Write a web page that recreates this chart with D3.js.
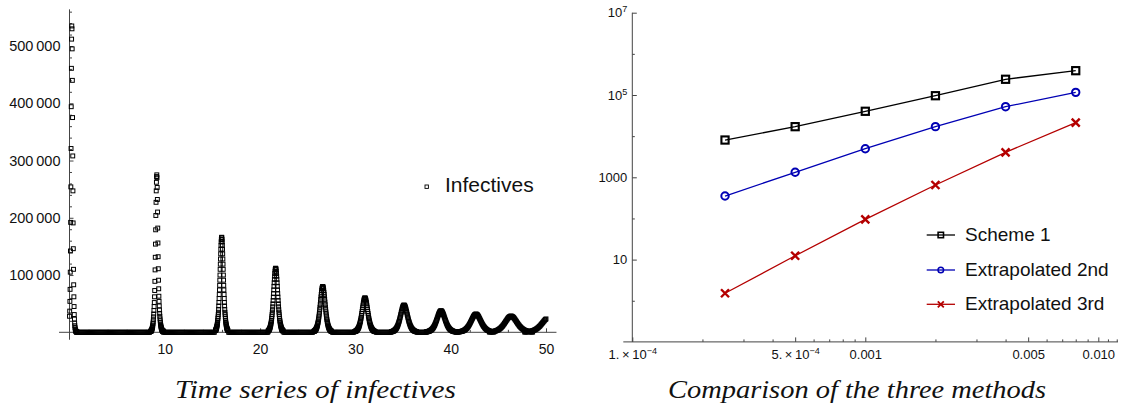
<!DOCTYPE html>
<html>
<head>
<meta charset="utf-8">
<script src="https://cdn.jsdelivr.net/npm/d3@7"></script>
<style>
  body { margin: 0; background: #fff; }
</style>
</head>
<body>
<svg id="chart" width="1121" height="411"></svg>
<script>
// ---------- left panel: infectives (thousands), stored as sampled segments ----------
// each segment: start time, sampling step, values
const segStart = [0, 0.9, 8.5, 10.0, 15.32, 16.7, 20.838, 22.5, 25.634, 27.6, 29.92, 32.2,
                  33.768, 36.5, 37.432, 40.6, 40.778, 44.062, 47.76];
const segStep = [0.02, 0.1, 0.02, 0.1, 0.018, 0.1, 0.022, 0.1, 0.026, 0.1, 0.03, 0.1,
                 0.037, 0.1, 0.043, 0.1, 0.052, 0.063, 0.07];
const segValues = [
  // peak 1
  [28,37,54,75,105,142,192,254,321,394,461,512,535,530,495,440,375,308,247,191,146,110,83,62,45,31,23,16,11.5,8.3,6,4.3,3.1,2.2,1.6,1.1,0.8,0.6,0.4,0.3,0.2],
  [0,0,0,0,0,0,0,0,0,0,0,0,0,0,0,0,0,0,0,0,0,0,0,0,0,0,0,0,0,0,0,0,0,0,0,0,0,0,0,0,0,0,0,0,0,0,0,0,0,0,0,0,0,0,0,0,0,0,0,0,0,0,0,0,0,0,0,0,0,0,0,0,0,0,0,0],
  // peak 2
  [1.3,1.6,1.9,2.3,2.8,3.4,4.1,5,6,7.2,8.6,10.4,12.5,15,18,22,27,32,38,45,52,62,73,89,109,131,154,179,204,227,247,262,272,
   275,270,253,232,210,182,156,132,111,91,76,63,54,46,39,33,28,23.5,20,17,14.3,12,10,8.4,7,5.9,4.9,4.1,3.4,2.8,2.3,1.9,1.6,1.3,1.1,0.9,0.7,0.5],
  [0,0,0,0,0,0,0,0,0,0,0,0,0,0,0,0,0,0,0,0,0,0,0,0,0,0,0,0,0,0,0,0,0,0,0,0,0,0,0,0,0,0,0,0,0,0,0,0,0,0,0,0,0],
  // peak 3
  [3.1,3.6,4.2,4.9,5.7,6.6,7.6,8.8,10.2,11.7,13.6,15.7,18,21,24,27,31,35,40,46,52,59,66,74,82,91,100,110,119,128,137,145,152,158,162,165,
   166,
   165,162,158,152,145,137,128,119,110,100,91,82,74,66,59,52,46,40,35,31,27,24,21,18,15.7,13.6,11.7,10.2,8.8,7.6,6.6,5.7,4.9,4.2,3.6,3.1],
  [0,0,0,0,0,0,0,0,0,0,0,0,0,0,0,0,0,0,0,0,0,0,0,0,0,0,0,0,0,0,0,0,0,0,0,0,0,0,0,0,0,0],
  // peak 4
  [2.1,2.5,2.8,3.3,3.8,4.4,5.1,5.9,6.9,7.9,9.2,10.6,12.1,13.9,15.9,18.3,20.9,23.9,27.2,30.9,35.1,39.5,44.5,49.7,55.4,61.5,67.6,74,80.3,86.5,92.5,97.9,102.7,106.6,109.5,111.4,
   112,
   111.4,109.5,106.6,102.7,97.9,92.5,86.5,80.3,74,67.6,61.5,55.4,49.7,44.5,39.5,35.1,30.9,27.2,23.9,20.9,18.3,15.9,13.9,12.1,10.6,9.2,7.9,6.9,5.9,5.1,4.4,3.8,3.3,2.8,2.5,2.1],
  [0,0,0,0,0,0,0,0,0,0,0,0,0,0,0,0,0,0,0,0,0,0,0,0,0,0,0,0,0,0,0],
  // peak 5
  [1.5,1.8,2,2.4,2.7,3.2,3.7,4.2,4.9,5.7,6.6,7.5,8.6,9.9,11.4,13,15,17,19.4,22.1,25,28.2,31.8,35.5,39.6,43.9,48.3,52.9,57.4,61.8,66.1,69.9,73.4,76.2,78.2,79.6,
   80,
   79.6,78.2,76.2,73.4,69.9,66.1,61.8,57.4,52.9,48.3,43.9,39.6,35.5,31.8,28.2,25,22.1,19.4,17,15,13,11.4,9.9,8.6,7.5,6.6,5.7,4.9,4.2,3.7,3.2,2.7,2.4,2,1.8,1.5],
  [0,0,0,0,0,0,0,0,0,0,0,0,0,0,0,0,0,0,0,0,0,0,0],
  // peak 6
  [1.1,1.3,1.5,1.8,2.1,2.4,2.7,3.2,3.7,4.2,4.9,5.7,6.5,7.4,8.5,9.8,11.2,12.8,14.6,16.6,18.8,21.2,23.8,26.6,29.7,32.9,36.2,39.7,43,46.3,49.6,52.4,55,57.1,58.7,59.7,
   60,
   59.7,58.7,57.1,55,52.4,49.6,46.3,43,39.7,36.2,32.9,29.7,26.6,23.8,21.2,18.8,16.6,14.6,12.8,11.2,9.8,8.5,7.4,6.5,5.7,4.9,4.2,3.7,3.2,2.7,2.4,2.1,1.8,1.5,1.3,1.1],
  [0,0,0,0,0,0,0,0,0,0,0,0,0,0,0,0],
  // peak 7
  [0.9,1,1.2,1.4,1.6,1.9,2.2,2.5,2.9,3.4,3.9,4.5,5.1,5.9,6.7,7.7,8.9,10.1,11.5,13.1,14.9,16.8,18.9,21.1,23.5,26.1,28.7,31.4,34.1,36.7,39.2,41.5,43.6,45.2,46.5,47.2,
   47.5,
   47.2,46.5,45.2,43.6,41.5,39.2,36.7,34.1,31.4,28.7,26.1,23.5,21.1,18.9,16.8,14.9,13.1,11.5,10.1,8.9,7.7,6.7,5.9,5.1,4.5,3.9,3.4,2.9,2.5,2.2,1.9,1.6,1.4,1.2,1,0.9],
  [0,0,0,0,0,0,0,0,0,0],
  // peak 8
  [0.7,0.8,1,1.1,1.3,1.5,1.7,2,2.3,2.7,3.1,3.5,4.1,4.7,5.3,6.1,7,8,9.1,10.4,11.7,13.2,14.9,16.7,18.6,20.6,22.7,24.8,26.9,29,31,32.8,34.4,35.7,36.7,37.3,
   37.5,
   37.3,36.7,35.7,34.4,32.8,31,29,26.9,24.8,22.7,20.6,18.6,16.7,14.9,13.2,11.7,10.4,9.1,8,7,6.1,5.3,4.7,4.1,3.5,3.1,2.7,2.3,2,1.7,1.5,1.3,1.1,1,0.8,0.7],
  [0,0],
  // peak 9
  [0.6,0.7,0.8,0.9,1.1,1.3,1.5,1.7,1.9,2.2,2.6,3,3.4,3.9,4.5,5.2,5.9,6.8,7.7,8.8,10,11.2,12.6,14.1,15.7,17.5,19.2,21,22.8,24.5,26.3,27.8,29.2,30.3,31.1,31.6,
   31.8,
   31.6,31.1,30.3,29.2,27.8,26.3,24.5,22.8,21,19.2,17.5,15.7,14.1,12.6,11.2,10,8.8,7.7,6.8,5.9,5.2,4.5,3.9,3.4,3,2.6,2.2,1.9,1.7,1.5,1.3,1.1,0.9,0.8,0.7,0.6],
  // peak 10
  [0.5,0.6,0.7,0.8,1,1.1,1.3,1.5,1.7,2,2.3,2.7,3.1,3.5,4,4.6,5.3,6,6.9,7.8,8.9,10,11.2,12.6,14,15.5,17.1,18.7,20.3,21.8,23.4,24.7,26,26.9,27.7,28.1,
   28.3,
   28.1,27.7,26.9,26,24.7,23.4,21.8,20.3,18.7,17.1,15.5,14,12.6,11.2,10,8.9,7.8,6.9,6,5.3,4.6,4,3.5,3.1,2.7,2.3,2,1.7,1.5,1.3,1.1,1,0.8,0.7,0.6,0.5],
  // rise of peak 11
  [0.5,0.6,0.6,0.8,0.9,1,1.2,1.4,1.6,1.8,2.1,2.4,2.8,3.2,3.6,4.2,4.8,5.4,6.2,7,8,9,10.1,11.3,12.6,14,15.4,16.9,18.3,19.7,21.1,22.3,23.4]
];
const leftXTicks = [10, 20, 30, 40, 50];
const leftYTicks = [100000, 200000, 300000, 400000, 500000];

// ---------- right panel: error vs step size ----------
const stepSizes = [0.00025, 0.0005, 0.001, 0.002, 0.004, 0.008];
const scheme1 = [8050, 17000, 40200, 96100, 241000, 390000];
const extrap2nd = [351, 1324, 4955, 17000, 52000, 116000];
const extrap3rd = [1.52, 12.4, 95.3, 650, 4050, 21200];
const rightXTicks = [1e-4, 5e-4, 0.001, 0.005, 0.01];
const rightXLabels = [["1.\u2009\u00d7\u200910", "\u22124"], ["5.\u2009\u00d7\u200910", "\u22124"], ["0.001"], ["0.005"], ["0.010"]];
const rightYTicks = [10, 1000, 1e5, 1e7];
const rightYLabels = [["10"], ["1000"], ["10", "5"], ["10", "7"]];

const sans = '"Liberation Sans", Arial, sans-serif';
const svg = d3.select("#chart");
const axisColor = "#444";

// ================= left panel =================
const xL = d3.scaleLinear().domain([0, 50]).range([69.5, 546]);
const yL = d3.scaleLinear().domain([0, 500000]).range([332.3, 46]);

const infectives = segStart.flatMap((t0, s) =>
  segValues[s].map((v, i) => [t0 + i * segStep[s], v * 1000]));

const left = svg.append("g");

left.append("line")
  .attr("x1", xL(-1.1)).attr("x2", xL(51.1))
  .attr("y1", yL(0)).attr("y2", yL(0))
  .attr("stroke", axisColor);
left.append("line")
  .attr("x1", xL(0)).attr("x2", xL(0))
  .attr("y1", yL(-13000)).attr("y2", yL(564000))
  .attr("stroke", axisColor);

function styleAxis(g, size) {
  g.select(".domain").remove();
  g.selectAll(".tick line").attr("stroke", axisColor);
  g.selectAll("text").attr("fill", "#111").attr("font-size", size).attr("font-family", sans);
}

const minorX = d3.range(2, 51, 2).filter(d => d % 10 !== 0);
const minorY = d3.range(20000, 560001, 20000).filter(d => d % 100000 !== 0);

left.append("g").attr("transform", `translate(0,${yL(0)})`)
  .call(d3.axisBottom(xL).tickValues(leftXTicks).tickSize(-4).tickPadding(12))
  .call(g => styleAxis(g, 14));
left.append("g").attr("transform", `translate(0,${yL(0)})`)
  .call(d3.axisBottom(xL).tickValues(minorX).tickSize(-2.5).tickFormat(""))
  .call(g => styleAxis(g, 14));
left.append("g").attr("transform", `translate(${xL(0)},0)`)
  .call(d3.axisLeft(yL).tickValues(leftYTicks).tickSize(-4).tickPadding(9)
    .tickFormat(d => d3.format(",")(d).replace(",", "\u2009")))
  .call(g => styleAxis(g, 14.5));
left.append("g").attr("transform", `translate(${xL(0)},0)`)
  .call(d3.axisLeft(yL).tickValues(minorY).tickSize(-2.5).tickFormat(""))
  .call(g => styleAxis(g, 14));

const sq = 3.9;
left.append("g")
  .attr("fill", "none").attr("stroke", "#000").attr("stroke-width", 1)
  .selectAll("rect")
  .data(infectives)
  .join("rect")
    .attr("x", d => xL(d[0]) - sq / 2)
    .attr("y", d => yL(d[1]) - sq / 2)
    .attr("width", sq).attr("height", sq);

// legend
left.append("rect")
  .attr("x", 425).attr("y", 185).attr("width", 3.4).attr("height", 3.4)
  .attr("fill", "none").attr("stroke", "#000").attr("stroke-width", 0.9);
left.append("text").attr("x", 445).attr("y", 192)
  .attr("font-size", 21).attr("font-family", sans).attr("fill", "#111").text("Infectives");

// ================= right panel =================
const xR = d3.scaleLog().domain([1e-4, 1e-2]).range([632.3, 1098.3]);
const yR = d3.scaleLog().domain([0.1, 1e7]).range([341.9, 12.7]);
const right = svg.append("g");

right.append("line")
  .attr("x1", xR(0.915e-4)).attr("x2", 1118)
  .attr("y1", yR(0.1)).attr("y2", yR(0.1))
  .attr("stroke", axisColor);
right.append("line")
  .attr("x1", xR(1e-4)).attr("x2", xR(1e-4))
  .attr("y1", yR(0.1)).attr("y2", yR(1e7))
  .attr("stroke", axisColor);

function superLabels(g, labels, size) {
  g.selectAll(".tick text").each(function(d, i) {
    const t = d3.select(this).text(null);
    t.append("tspan").text(labels[i][0]);
    if (labels[i][1]) {
      t.append("tspan").attr("dy", "-0.55em").attr("font-size", size * 0.7).text(labels[i][1]);
    }
  });
}

const minorRX = [2e-4, 3e-4, 4e-4, 6e-4, 7e-4, 8e-4, 9e-4, 2e-3, 3e-3, 4e-3, 6e-3, 7e-3, 8e-3, 9e-3, 0.011, 0.012];
const minorRY = [1, 100, 1e4, 1e6];

right.append("g").attr("transform", `translate(0,${yR(0.1)})`)
  .call(d3.axisBottom(xR).tickValues(rightXTicks).tickSize(-4.5).tickPadding(8))
  .call(g => styleAxis(g, 13))
  .call(g => superLabels(g, rightXLabels, 13));
right.append("g").attr("transform", `translate(0,${yR(0.1)})`)
  .call(d3.axisBottom(xR).tickValues(minorRX).tickSize(-2.5).tickFormat(""))
  .call(g => styleAxis(g, 13));
right.append("g").attr("transform", `translate(${xR(1e-4)},0)`)
  .call(d3.axisLeft(yR).tickValues(rightYTicks).tickSize(-4.5).tickPadding(5))
  .call(g => styleAxis(g, 13))
  .call(g => superLabels(g, rightYLabels, 13));
right.append("g").attr("transform", `translate(${xR(1e-4)},0)`)
  .call(d3.axisLeft(yR).tickValues(minorRY).tickSize(-2.5).tickFormat(""))
  .call(g => styleAxis(g, 13));

const series = [
  { name: "Scheme 1", values: scheme1, color: "#000000", marker: "square" },
  { name: "Extrapolated 2nd", values: extrap2nd, color: "#0000b4", marker: "circle" },
  { name: "Extrapolated 3rd", values: extrap3rd, color: "#b40000", marker: "cross" }
];

const line = d3.line().x(d => xR(d[0])).y(d => yR(d[1]));

function drawMarker(g, kind, color, x, y, s) {
  if (kind === "square") {
    g.append("rect").attr("x", x - 3.6 * s).attr("y", y - 3.6 * s)
      .attr("width", 7.2 * s).attr("height", 7.2 * s)
      .attr("fill", "none").attr("stroke", color).attr("stroke-width", 2.1 * s);
  } else if (kind === "circle") {
    g.append("circle").attr("cx", x).attr("cy", y).attr("r", 3.7 * s)
      .attr("fill", "none").attr("stroke", color).attr("stroke-width", 2 * s);
  } else {
    const r = 4 * s;
    g.append("path")
      .attr("d", `M${x - r},${y - r}L${x + r},${y + r}M${x - r},${y + r}L${x + r},${y - r}`)
      .attr("stroke", color).attr("stroke-width", 2.4 * s).attr("fill", "none");
  }
}

series.forEach(s => {
  const pts = stepSizes.map((h, i) => [h, s.values[i]]);
  right.append("path").attr("d", line(pts))
    .attr("fill", "none").attr("stroke", s.color).attr("stroke-width", 1.3);
  const mg = right.append("g");
  pts.forEach(p => drawMarker(mg, s.marker, s.color, xR(p[0]), yR(p[1]), 1));
});

// legend
const legendY = [235, 270, 304.3];
series.forEach((s, i) => {
  const g = right.append("g");
  g.append("line").attr("x1", 926.7).attr("x2", 955)
    .attr("y1", legendY[i]).attr("y2", legendY[i])
    .attr("stroke", s.color).attr("stroke-width", 1.3);
  drawMarker(g, s.marker, s.color, 940.8, legendY[i], 0.75);
  g.append("text").attr("x", 965).attr("y", legendY[i] + 6)
    .attr("font-size", 19).attr("font-family", sans).attr("fill", "#111").text(s.name);
});

// ================= captions =================
const captions = [
  { text: "Time series of infectives", x: 175, len: 281 },
  { text: "Comparison of the three methods", x: 668, len: 378 }
];
svg.selectAll("text.caption")
  .data(captions)
  .join("text")
    .attr("class", "caption")
    .attr("x", d => d.x).attr("y", 398)
    .attr("textLength", d => d.len).attr("lengthAdjust", "spacingAndGlyphs")
    .style("font-family", '"Liberation Serif", "DejaVu Serif", serif')
    .style("font-style", "italic").style("font-size", "26px").attr("fill", "#111")
    .text(d => d.text);
</script>
</body>
</html>
